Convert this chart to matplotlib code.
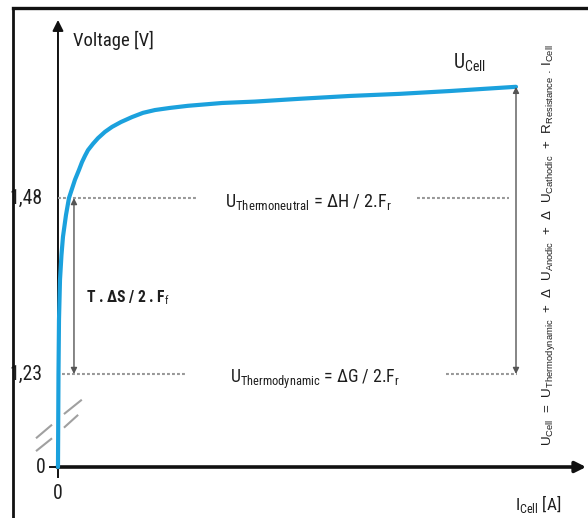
import numpy as np
import matplotlib
matplotlib.use("Agg")
import matplotlib.pyplot as plt
from matplotlib.lines import Line2D
from matplotlib import font_manager

# --- data -------------------------------------------------------------
# cell current (arbitrary units, 0..100) and cell voltage [V]
current = [0.0, 0.11, 0.22, 0.44, 0.76, 1.09, 1.75, 2.40, 3.71, 4.59, 5.24,
           5.90, 6.55, 7.64, 8.73, 10.26, 11.79, 13.76, 16.16, 18.56, 21.18,
           24.45, 28.38, 32.10, 35.81, 43.01, 52.84, 63.76, 74.67, 85.59,
           100.0]
voltage = [0.0, 1.230, 1.307, 1.364, 1.399, 1.425, 1.456, 1.480, 1.506,
           1.520, 1.531, 1.540, 1.548, 1.557, 1.565, 1.574, 1.581, 1.588,
           1.595, 1.601, 1.605, 1.608, 1.611, 1.613, 1.615, 1.617, 1.621,
           1.625, 1.628, 1.632, 1.638]

u_thermoneutral = 1.48
u_thermodynamic = 1.23
y_tick_labels = ["0", "1,23", "1,48"]
x_tick_labels = ["0"]

# --- fonts: prefer a narrow sans face -----------------------------------
entries = font_manager.fontManager.ttflist
names = {f.name for f in entries}
face, stretch = "Liberation Sans", "normal"
for cand in ["Liberation Sans Narrow", "Arial Narrow", "Roboto Condensed",
             "Open Sans Condensed"]:
    if cand in names:
        face = cand
        break
else:
    if any(f.name == "DejaVu Sans" and f.stretch in ("condensed", "semi-condensed")
           for f in entries):
        face, stretch = "DejaVu Sans", "condensed"

plt.rcParams["mathtext.fontset"] = "custom"
plt.rcParams["mathtext.rm"] = f"{face}:stretch={stretch}" if stretch != "normal" else face
plt.rcParams["mathtext.sf"] = "Liberation Sans"
plt.rcParams["font.family"] = [face, "DejaVu Sans"]
plt.rcParams["font.stretch"] = stretch

# --- broken voltage scale: 0..1.23 V squeezed, above 1.23 V linear ----
BREAK = 1.23
LOW = 93.0        # scale units used for 0..BREAK
HIGH = 704.0      # scale units per volt above BREAK


def fwd(v):
    v = np.asarray(v, dtype=float)
    return np.where(v <= BREAK, v * LOW / BREAK, LOW + (v - BREAK) * HIGH)


def inv(g):
    g = np.asarray(g, dtype=float)
    return np.where(g <= LOW, g * BREAK / LOW, BREAK + (g - LOW) / HIGH)


fig = plt.figure(figsize=(5.88, 5.18), dpi=100)
ax = fig.add_axes([0, 0, 1, 1])
ax.set_yscale("function", functions=(fwd, inv))
ax.set_xlim(-12.66, 115.72)
ax.set_ylim(-0.6745, 1.7613)
ax.axis("off")

# outer frame (top and left edges)
fig.add_artist(Line2D([13 / 588, 13 / 588], [0, 1 - 8 / 518], color="#111111", lw=2.0))
fig.add_artist(Line2D([13 / 588, 1], [1 - 8 / 518, 1 - 8 / 518], color="#111111", lw=2.4))

txt = "#1e1e1e"

# axes with arrow heads
ax.annotate("", xy=(0, 1.733), xytext=(0, 0),
            arrowprops=dict(arrowstyle="-|>", lw=1.4, color="#111111",
                            mutation_scale=16, shrinkA=0, shrinkB=0), zorder=2)
ax.annotate("", xy=(115.3, 0), xytext=(-0.2, 0),
            arrowprops=dict(arrowstyle="-|>", lw=2.6, color="#111111",
                            mutation_scale=16, shrinkA=0, shrinkB=0), zorder=2)
# zero ticks
ax.plot([-1.75, 0], [0, 0], color="#111111", lw=1.4)
ax.plot([0, 0], [0, -0.133], color="#111111", lw=1.4)

# reference voltage levels (dotted)
dot = dict(color="#999999", lw=1.5, ls=(0, (1.4, 1.0)))
ax.plot([0, 30.35], [u_thermoneutral] * 2, **dot)
ax.plot([78.4, 98.5], [u_thermoneutral] * 2, **dot)
ax.plot([0.87, 27.7], [u_thermodynamic] * 2, **dot)
ax.plot([84.7, 100.2], [u_thermodynamic] * 2, **dot)

# axis-break marks
brk = dict(color="#a0a0a0", lw=1.5, solid_capstyle="butt")
ax.plot([-4.8, -1.3], [0.38, 0.56], **brk)
ax.plot([1.3, 5.2], [0.70, 0.89], **brk)
ax.plot([-4.8, -1.3], [0.21, 0.38], **brk)
ax.plot([1.3, 4.4], [0.52, 0.69], **brk)

# polarisation curve
ax.plot(current, voltage, color="#1ba1dd", lw=3.0, solid_capstyle="round",
        solid_joinstyle="round", zorder=3)

# double arrows
darr = dict(arrowstyle="<|-|>", lw=1.0, color="#555555", mutation_scale=9,
            shrinkA=0, shrinkB=0)
ax.annotate("", xy=(3.49, u_thermoneutral), xytext=(3.49, u_thermodynamic),
            arrowprops=darr)
ax.annotate("", xy=(100.0, voltage[-1]), xytext=(100.0, u_thermodynamic),
            arrowprops=darr)

fs = 14
grow = 1.1  # labels are drawn a little larger than their nominal extent
fitted = []  # (text, target size in pixels, measure along height?)

# tick labels
t = ax.text(-3.3, u_thermoneutral, y_tick_labels[2], ha="right", va="center",
            fontsize=fs, color=txt)
fitted.append((t, 30 * grow, False))
ax.text(-3.3, u_thermodynamic, y_tick_labels[1], ha="right", va="center",
        fontsize=fs, color=txt)
ax.text(-2.6, 0.0, y_tick_labels[0], ha="right", va="center", fontsize=fs, color=txt)
ax.text(0, -0.344, x_tick_labels[0], ha="center", va="center", fontsize=fs, color=txt)

# labels
fitted.append((ax.text(3.28, 1.704, "Voltage [V]", ha="left", va="center",
                       fontsize=fs, color=txt), 74 * grow, False))
fitted.append((ax.text(99.8, -0.569, r"I$_{\mathrm{Cell}}$ [A]", ha="left",
                       va="baseline", fontsize=fs, color=txt), 42 * grow, False))
fitted.append((ax.text(86.2, 1.664, r"U$_{\mathrm{Cell}}$", ha="left",
                       va="baseline", fontsize=fs, color=txt), 30 * grow, False))
fitted.append((ax.text(36.5, 1.467,
                       r"U$_{\mathrm{Thermoneutral}}$ = ΔH / 2.F$_{\mathrm{r}}$",
                       ha="left", va="baseline", fontsize=fs, color=txt),
               152 * grow, False))
fitted.append((ax.text(37.5, 1.111,
                       r"U$_{\mathrm{Thermodynamic}}$ = ΔG / 2.F$_{\mathrm{r}}$",
                       ha="left", va="baseline", fontsize=fs, color=txt),
               155 * grow, False))
fitted.append((ax.text(6.11, 1.332, r"T . ΔS / 2 . F$_{\mathrm{f}}$", ha="left",
                       va="baseline", fontsize=fs, color=txt, fontweight="bold"),
               76 * grow, False))
fitted.append((ax.text(107.0, 1.413,
                       r"U$_{\mathsf{Cell}}$  =  U$_{\mathsf{Thermodynamic}}$  +  Δ  U$_{\mathsf{Anodic}}$"
                       r"  +  Δ  U$_{\mathsf{Cathodic}}$  +  R$_{\mathsf{Resistance}}$ . I$_{\mathsf{Cell}}$",
                       rotation=90, ha="center", va="center", fontsize=8.5, color=txt,
                       family=["Liberation Sans", "DejaVu Sans"], stretch="normal"),
               400, True))

# size the labels to their intended extents
renderer = fig.canvas.get_renderer()
base_size = None
for t, target, vertical in fitted:
    bb = t.get_window_extent(renderer)
    extent = bb.height if vertical else bb.width
    t.set_fontsize(t.get_fontsize() * target / extent)
    if base_size is None:
        base_size = t.get_fontsize()
# the remaining tick labels follow the size of "1,48"
for t in ax.texts:
    if t.get_text() in ("0", "1,23"):
        t.set_fontsize(base_size)

fig.savefig("out.png", dpi=100)
